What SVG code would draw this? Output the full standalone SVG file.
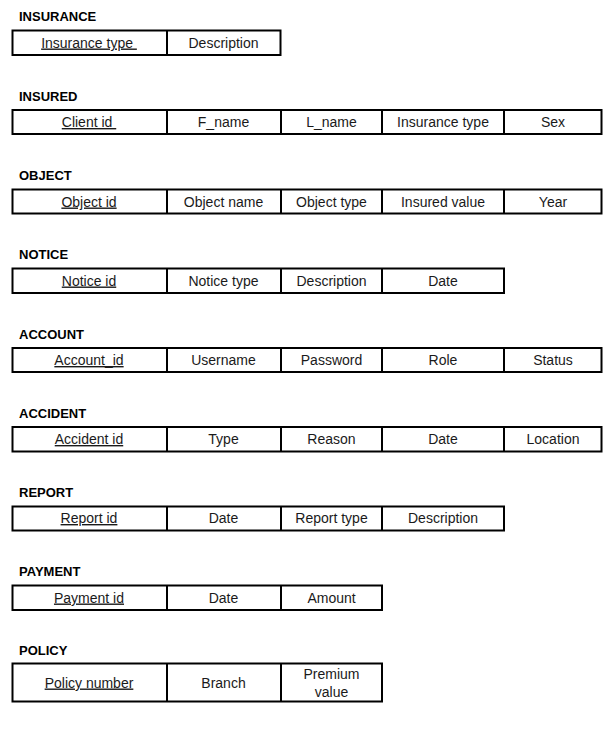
<svg xmlns="http://www.w3.org/2000/svg" width="603" height="729" viewBox="0 0 603 729">
  <style>
    .title { font-family: "Liberation Sans", Arial, sans-serif; font-size: 13px; font-weight: bold; fill: #000; }
    .cell { font-family: "Liberation Sans", Arial, sans-serif; font-size: 14px; fill: #1a1a1a; text-anchor: middle; white-space: pre; }
    .key { text-decoration: underline; }
    .box { fill: none; stroke: #000; stroke-width: 2; }
    .div { stroke: #000; stroke-width: 2; }
  </style>
  <rect width="603" height="729" fill="#fff"/>

  <!-- INSURANCE -->
  <g id="insurance">
    <text class="title" x="19" y="21">INSURANCE</text>
    <rect class="box" x="12.5" y="30.5" width="268" height="24.5"/>
    <line class="div" x1="167" y1="30.5" x2="167" y2="55"/>
    <text class="cell key" x="89" y="47.5">Insurance type </text>
    <text class="cell" x="223.5" y="47.5">Description</text>
  </g>

  <!-- INSURED -->
  <g id="insured">
    <text class="title" x="19" y="100.5">INSURED</text>
    <rect class="box" x="12.5" y="110" width="589" height="24"/>
    <line class="div" x1="167" y1="110" x2="167" y2="134"/>
    <line class="div" x1="281" y1="110" x2="281" y2="134"/>
    <line class="div" x1="382" y1="110" x2="382" y2="134"/>
    <line class="div" x1="504" y1="110" x2="504" y2="134"/>
    <text class="cell key" x="89" y="127">Client id </text>
    <text class="cell" x="223.5" y="127">F_name</text>
    <text class="cell" x="331.5" y="127">L_name</text>
    <text class="cell" x="443" y="127">Insurance type</text>
    <text class="cell" x="553" y="127">Sex</text>
  </g>

  <!-- OBJECT -->
  <g id="object">
    <text class="title" x="19" y="180">OBJECT</text>
    <rect class="box" x="12.5" y="189.5" width="589" height="24"/>
    <line class="div" x1="167" y1="189.5" x2="167" y2="213.5"/>
    <line class="div" x1="281" y1="189.5" x2="281" y2="213.5"/>
    <line class="div" x1="382" y1="189.5" x2="382" y2="213.5"/>
    <line class="div" x1="504" y1="189.5" x2="504" y2="213.5"/>
    <text class="cell key" x="89" y="206.5">Object id</text>
    <text class="cell" x="223.5" y="206.5">Object name</text>
    <text class="cell" x="331.5" y="206.5">Object type</text>
    <text class="cell" x="443" y="206.5">Insured value</text>
    <text class="cell" x="553" y="206.5">Year</text>
  </g>

  <!-- NOTICE -->
  <g id="notice">
    <text class="title" x="19" y="259">NOTICE</text>
    <rect class="box" x="12.5" y="268.5" width="491.5" height="24.5"/>
    <line class="div" x1="167" y1="268.5" x2="167" y2="293"/>
    <line class="div" x1="281" y1="268.5" x2="281" y2="293"/>
    <line class="div" x1="382" y1="268.5" x2="382" y2="293"/>
    <text class="cell key" x="89" y="285.5">Notice id</text>
    <text class="cell" x="223.5" y="285.5">Notice type</text>
    <text class="cell" x="331.5" y="285.5">Description</text>
    <text class="cell" x="443" y="285.5">Date</text>
  </g>

  <!-- ACCOUNT -->
  <g id="account">
    <text class="title" x="19" y="338.5">ACCOUNT</text>
    <rect class="box" x="12.5" y="348" width="589" height="24"/>
    <line class="div" x1="167" y1="348" x2="167" y2="372"/>
    <line class="div" x1="281" y1="348" x2="281" y2="372"/>
    <line class="div" x1="382" y1="348" x2="382" y2="372"/>
    <line class="div" x1="504" y1="348" x2="504" y2="372"/>
    <text class="cell key" x="89" y="365">Account_id</text>
    <text class="cell" x="223.5" y="365">Username</text>
    <text class="cell" x="331.5" y="365">Password</text>
    <text class="cell" x="443" y="365">Role</text>
    <text class="cell" x="553" y="365">Status</text>
  </g>

  <!-- ACCIDENT -->
  <g id="accident">
    <text class="title" x="19" y="417.5">ACCIDENT</text>
    <rect class="box" x="12.5" y="427" width="589" height="24.5"/>
    <line class="div" x1="167" y1="427" x2="167" y2="451.5"/>
    <line class="div" x1="281" y1="427" x2="281" y2="451.5"/>
    <line class="div" x1="382" y1="427" x2="382" y2="451.5"/>
    <line class="div" x1="504" y1="427" x2="504" y2="451.5"/>
    <text class="cell key" x="89" y="444">Accident id</text>
    <text class="cell" x="223.5" y="444">Type</text>
    <text class="cell" x="331.5" y="444">Reason</text>
    <text class="cell" x="443" y="444">Date</text>
    <text class="cell" x="553" y="444">Location</text>
  </g>

  <!-- REPORT -->
  <g id="report">
    <text class="title" x="19" y="497">REPORT</text>
    <rect class="box" x="12.5" y="506.5" width="491.5" height="24"/>
    <line class="div" x1="167" y1="506.5" x2="167" y2="530.5"/>
    <line class="div" x1="281" y1="506.5" x2="281" y2="530.5"/>
    <line class="div" x1="382" y1="506.5" x2="382" y2="530.5"/>
    <text class="cell key" x="89" y="523">Report id</text>
    <text class="cell" x="223.5" y="523">Date</text>
    <text class="cell" x="331.5" y="523">Report type</text>
    <text class="cell" x="443" y="523">Description</text>
  </g>

  <!-- PAYMENT -->
  <g id="payment">
    <text class="title" x="19" y="576">PAYMENT</text>
    <rect class="box" x="12.5" y="585.5" width="369.5" height="24.5"/>
    <line class="div" x1="167" y1="585.5" x2="167" y2="610"/>
    <line class="div" x1="281" y1="585.5" x2="281" y2="610"/>
    <text class="cell key" x="89" y="602.5">Payment id</text>
    <text class="cell" x="223.5" y="602.5">Date</text>
    <text class="cell" x="331.5" y="602.5">Amount</text>
  </g>

  <!-- POLICY -->
  <g id="policy">
    <text class="title" x="19" y="655">POLICY</text>
    <rect class="box" x="12.5" y="663.5" width="369.5" height="38"/>
    <line class="div" x1="167" y1="663.5" x2="167" y2="701.5"/>
    <line class="div" x1="281" y1="663.5" x2="281" y2="701.5"/>
    <text class="cell key" x="89" y="687.5">Policy number</text>
    <text class="cell" x="223.5" y="687.5">Branch</text>
    <text class="cell" x="331.5" y="678.5">Premium</text>
    <text class="cell" x="331.5" y="696.5">value</text>
  </g>

  <!-- no connectors in this schema -->
  <g id="connectors"/>
</svg>
